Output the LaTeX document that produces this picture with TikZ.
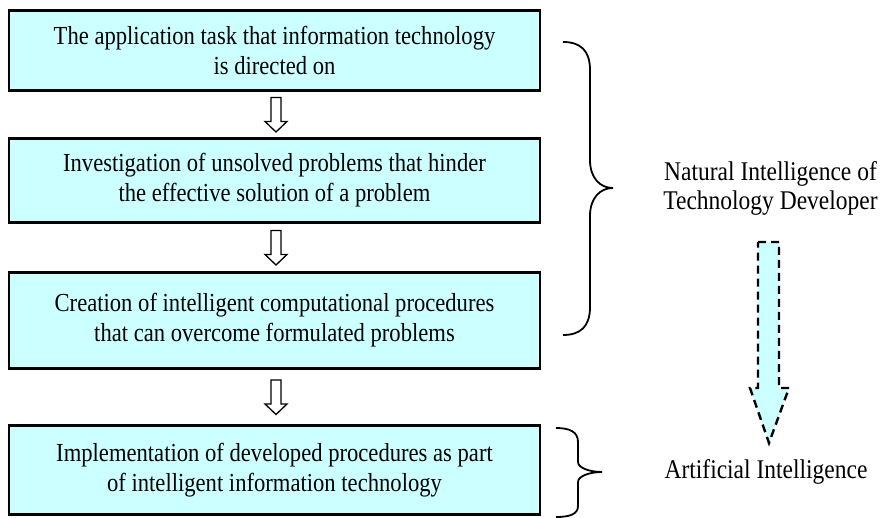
\documentclass[tikz,border=0pt]{standalone}
\usepackage{fontspec}
\setmainfont{Liberation Serif}[FakeStretch=0.87]
\usetikzlibrary{calc}
\definecolor{boxcyan}{HTML}{CCFFFF}
\begin{document}
\begin{tikzpicture}[x=1pt,y=-1pt,
  stepbox/.style={draw=black, line width=2.6pt, fill=boxcyan, minimum width=531pt, align=center, inner sep=0pt, font=\fontsize{26}{30}\selectfont},
  sidelabel/.style={align=center, inner sep=0pt, font=\fontsize{27}{29}\selectfont},
  bracepath/.style={draw=black, line width=1.8pt},
  hollowdown/.pic={\draw[black, fill=white, line width=1.3pt, line join=miter]
      (-5,-17) -- (5,-17) -- (5,7) -- (11,7) -- (0,17.5) -- (-11,7) -- (-5,7) -- cycle;}
]
\useasboundingbox (0,0) rectangle (883,518);
\node[stepbox, minimum height=80pt] (b1) at (274.5,50.5) {The application task that information technology\\is directed on};
\node[stepbox, minimum height=84pt] (b2) at (274.5,180.5) {Investigation of unsolved problems that hinder\\the effective solution of a problem};
\node[stepbox, minimum height=96pt] (b3) at (274.5,320.5) {Creation of intelligent computational procedures\\that can overcome formulated problems};
\node[stepbox, minimum height=89pt] (b4) at (274.5,470) {Implementation of developed procedures as part\\of intelligent information technology};

\path ($(b1.south)!0.5!(b2.north)+(1.5,0)$) pic {hollowdown};
\path ($(b2.south)!0.5!(b3.north)+(1.5,0)$) pic {hollowdown};
\path ($(b3.south)!0.5!(b4.north)+(1.5,0)$) pic {hollowdown};

% big brace
\draw[bracepath] (563,42) .. controls (580,42) and (590,50) .. (590,70) -- (590,160)
  .. controls (590,178) and (600,188) .. (613,188)
  .. controls (600,188) and (590,198) .. (590,216) -- (590,307)
  .. controls (590,327) and (580,335) .. (563,335);
% small brace
\draw[bracepath] (556,428) .. controls (570,428) and (578,432) .. (578,442) -- (578,462)
  .. controls (578,468) and (590,472) .. (602,472)
  .. controls (590,472) and (578,476) .. (578,482) -- (578,506)
  .. controls (578,514) and (570,517) .. (556,517);

\node[sidelabel] (ni) at (770.5,188) {Natural Intelligence of\\Technology Developer};
\node[sidelabel] (ai) at (766,472) {Artificial Intelligence};

% dashed block arrow
\draw[fill=boxcyan, draw=black, line width=2.4pt, dash pattern=on 8pt off 5pt]
  (758,242) -- (779,242) -- (779,388) -- (789,388) -- (769,443) -- (750,388) -- (758,388) -- cycle;
\end{tikzpicture}
\end{document}
